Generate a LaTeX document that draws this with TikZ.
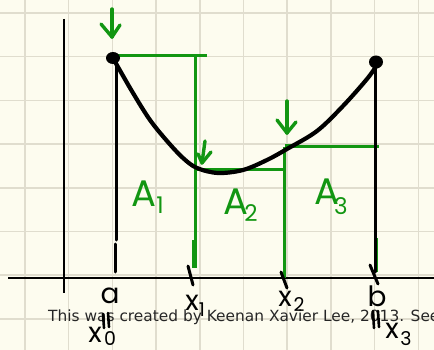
\documentclass[tikz,border=0pt]{standalone}
\usepackage{fontspec}
\setmainfont{DejaVu Sans}
\newfontfamily\handfont{Poppins}
\definecolor{bgc}{RGB}{253,252,239}
\definecolor{gridc}{RGB}{224,221,206}
\definecolor{grn}{RGB}{18,150,18}
\definecolor{notec}{RGB}{38,38,38}
\begin{document}
\begin{tikzpicture}[x=1pt,y=-1pt,
  gridline/.style={gridc,line width=1.5pt},
  axis/.style={black,line width=2.6pt},
  curveline/.style={black,line width=4.2pt,line cap=round},
  blk/.style={black,line width=3pt,line cap=round},
  grnline/.style={grn,line width=3pt},
  grnarrow/.style={grn,line width=3.4pt,line cap=round,line join=round},
  tick/.style={black,line width=3pt,line cap=round},
  hand/.style={inner sep=0pt,font=\handfont\fontsize{28}{28}\selectfont},
  handsub/.style={inner sep=0pt,font=\handfont\fontsize{19}{19}\selectfont},
  area/.style={inner sep=0pt,grn,font=\handfont\fontsize{37}{37}\selectfont},
  areasub/.style={inner sep=0pt,grn,font=\handfont\fontsize{23}{23}\selectfont},
  note/.style={inner sep=0pt,anchor=base west,notec,font=\fontsize{15.4}{15.4}\selectfont}
]
\useasboundingbox (0,0) rectangle (434,350);
\clip (0,0) rectangle (434,350);
\fill[bgc] (0,0) rectangle (434,350);
% grid
\foreach \k in {0,...,9} \draw[gridline] ({25+43.7*\k},0) -- ({25+43.7*\k},350);
\foreach \k in {0,...,7} \draw[gridline] (0,{13+43.7*\k}) -- (434,{13+43.7*\k});
% axes
\coordinate (ytop) at (64,19);
\coordinate (ybot) at (64,293);
\coordinate (xl) at (8,278);
\coordinate (xr) at (440,278);
\draw[axis] (ytop) -- (ybot);
\draw[axis] (xl) -- (xr);
% green rectangles
\coordinate (r1a) at (116,56);
\coordinate (r1b) at (207,56);
\coordinate (r1c) at (195,56);
\coordinate (r1d) at (195,268);
\draw[grnline] (r1a) -- (r1b);
\draw[grnline] (r1c) -- (r1d);
\draw[grn,line width=1.6pt] (193,240) -- (193,268);
\coordinate (r2a) at (196,170);
\coordinate (r2b) at (286,170);
\coordinate (r2c) at (284,147);
\coordinate (r2d) at (284,278);
\draw[grnline] (r2a) -- (r2b);
\draw[grnline] (r2c) -- (r2d);
\coordinate (r3a) at (285,147);
\coordinate (r3b) at (379,147);
\draw[grnline] (r3a) -- (r3b);
\draw[grn,line width=4.5pt] (285,146.5) -- (291,146.5);
\draw[grn,line width=1.8pt] (376.8,238) -- (376.8,272);
% black verticals
\coordinate (va1) at (116,62);
\coordinate (va2) at (116,240);
\coordinate (va3) at (115,244);
\coordinate (va4) at (115,272);
\draw[blk] (va1) -- (va2);
\draw[blk] (va3) -- (va4);
\coordinate (vb1) at (375,66);
\coordinate (vb2) at (375,272);
\draw[blk] (vb1) -- (vb2);
% curve
\draw[curveline] plot[smooth,tension=0.55] coordinates {(114,60) (133,93) (150,120) (167,141) (183,158) (197,168) (218,173) (243,170) (267,160) (287,149) (317,131) (343,106) (367,79) (377,65)};
% end dots
\fill[black] (113,58) ellipse [x radius=7pt,y radius=6pt];
\fill[black] (376,62) ellipse [x radius=7pt,y radius=6.5pt];
% green arrows
\coordinate (ar1s) at (112,9);
\coordinate (ar1t) at (112,37);
\draw[grnarrow] (ar1s) -- (ar1t);
\draw[grnarrow] (101,24) -- (ar1t) -- (120,25);
\coordinate (ar2s) at (205,141);
\coordinate (ar2t) at (202,163);
\draw[grnarrow] (ar2s) -- (ar2t);
\draw[grnarrow] (198,154) -- (ar2t) -- (211,152);
\coordinate (ar3s) at (287,101);
\coordinate (ar3t) at (287,133);
\draw[grnarrow] (ar3s) -- (ar3t);
\draw[grnarrow] (277,120) -- (ar3t) -- (296,122);
% ticks
\draw[tick] (188,266) -- (193,285);
\draw[tick] (281,272) -- (287,288);
\draw[tick] (370,265) -- (378,284);
% area labels
\node[area] (A1) at (144,194) {A};
\node[areasub] (A1s) at (160,205) {1};
\node[area] (A2) at (236,202) {A};
\node[areasub] (A2s) at (251,213) {2};
\node[area] (A3) at (327,192) {A};
\node[areasub] (A3s) at (341,206) {3};
% note text
\node[note] (credit) at (48,321) {This was created by Keenan Xavier Lee, 2013. See};
% axis labels
\node[hand] (la) at (110,296) {a};
\node[hand] (lx1) at (192,303) {x};
\node[handsub] (lx1s) at (202,310) {1};
\node[hand] (lx2) at (285,299) {x};
\node[handsub] (lx2s) at (299,305) {2};
\node[hand] (lb) at (377,296) {b};
\node[hand] (lx0) at (95,335) {x};
\node[handsub] (lx0s) at (110,339) {0};
\node[hand] (lx3) at (392,331) {x};
\node[handsub] (lx3s) at (406,339) {3};
% equal marks
\draw[tick,line width=2.6pt] (103,314) -- (104,328);
\draw[tick,line width=2.6pt] (108,313) -- (109,327);
\draw[tick,line width=2.6pt] (373,311) -- (374,328);
\draw[tick,line width=2.6pt] (378,311) -- (379,327);
\end{tikzpicture}
\end{document}
